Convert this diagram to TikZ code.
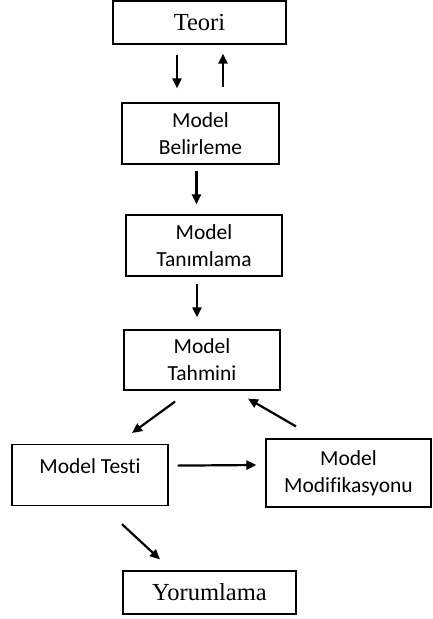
\documentclass[tikz,border=0pt]{standalone}
\usepackage{fontspec}
\setmainfont{Liberation Serif}
\newfontfamily\boxsans[Ligatures=NoCommon]{Carlito}
\usetikzlibrary{arrows.meta}
\begin{document}
\begin{tikzpicture}[x=1pt,y=-1pt,
  box/.style={draw=black, line width=1.2pt, inner sep=0pt, align=center},
  serifbox/.style={box, font=\fontsize{24.5}{28}\selectfont},
  sansbox/.style={box, font=\boxsans\fontsize{21.5}{27}\selectfont},
  arr/.style={line width=2.2pt, -{Triangle[length=10pt,width=9pt]}}]
\useasboundingbox[fill=white] (0,0) rectangle (432,619);

% steps of the modelling process
\node[serifbox, minimum width=173, minimum height=43] (teori) at (199.5,22.5) {Teori};
\node[sansbox, minimum width=157, minimum height=61] (bel) at (200.5,133.5) {Model\\Belirleme};
\node[sansbox, minimum width=156, minimum height=61] (tan) at (204,245.5) {Model\\Tanımlama};
\node[sansbox, minimum width=156, minimum height=60] (tah) at (202,360) {Model\\Tahmini};
\node[sansbox, minimum width=156, text height=29pt, text depth=32pt, anchor=north] (testi) at (90,444) {Model Testi};
\node[sansbox, minimum width=165, minimum height=68] (mod) at (348.5,473) {Model\\Modifikasyonu};
\node[serifbox, minimum width=173, minimum height=43] (yor) at (209.5,592.5) {Yorumlama};

% flow between the steps
\draw[arr] ([shift={(-22.5,10)}]teori.south) -- ([shift={(-23.5,-14)}]bel.north);
\draw[arr] ([shift={(22.5,-15)}]bel.north) -- ([shift={(23.5,9)}]teori.south);
\draw[arr] ([shift={(-4,6)}]bel.south) -- ([shift={(-7.5,-10)}]tan.north);
\draw[arr] ([shift={(-7,7)}]tan.south) -- ([shift={(-5,-12)}]tah.north);
\draw[arr] ([shift={(-27,11)}]tah.south) -- ([shift={(42,-11)}]testi.north);
\draw[arr] ([shift={(-52.5,-12)}]mod.north) -- ([shift={(46,8)}]tah.south);
\draw[arr] ([shift={(9,-9.5)}]testi.east) -- ([shift={(-9,-8)}]mod.west);
\draw[arr] ([shift={(32,18)}]testi.south) -- ([shift={(-49.5,-11)}]yor.north);
\end{tikzpicture}
\end{document}
